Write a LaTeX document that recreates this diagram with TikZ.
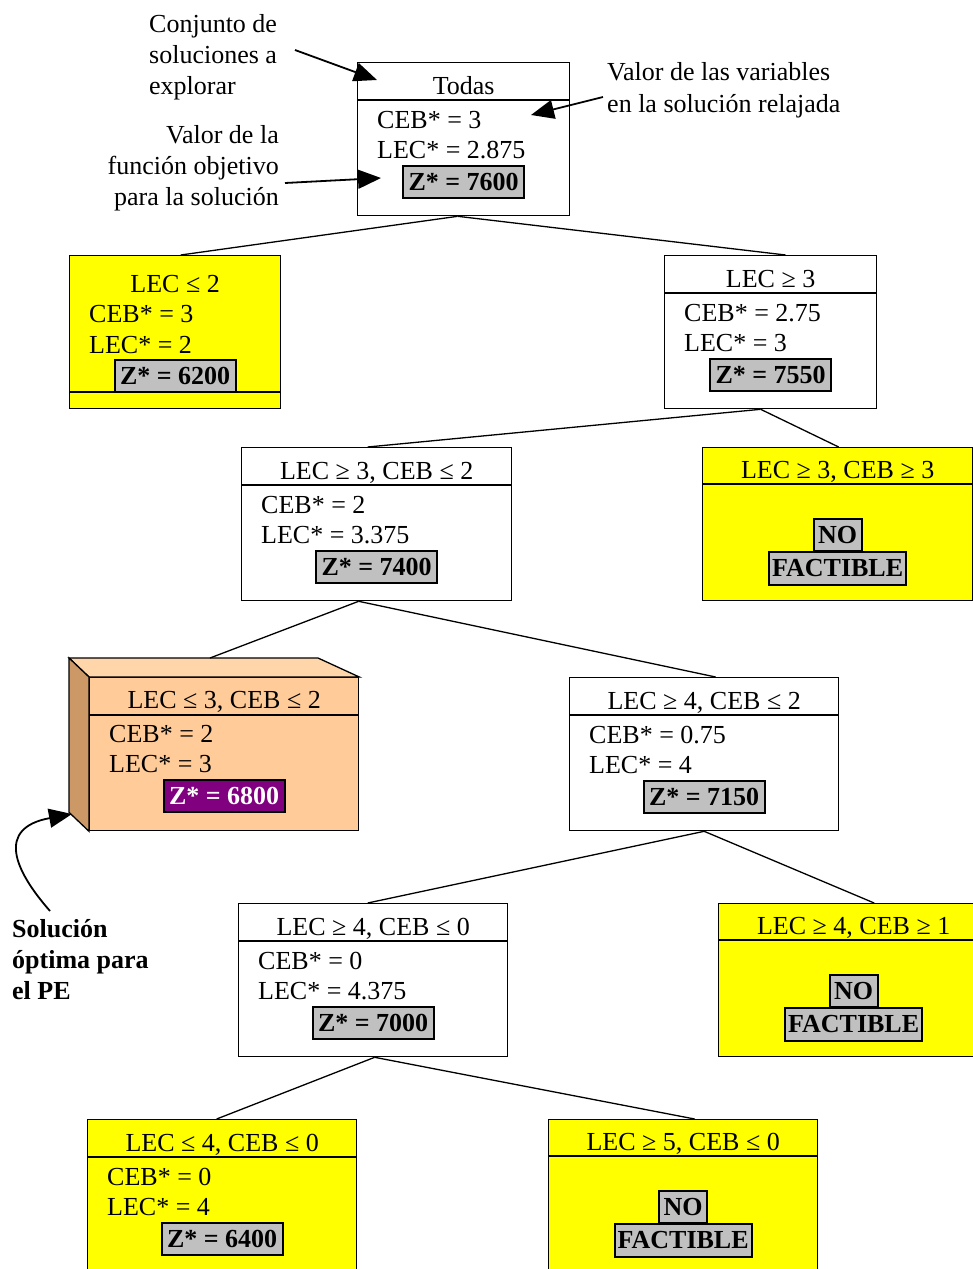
\documentclass[tikz,border=0pt]{standalone}
\usepackage{fontspec}
\setmainfont{Liberation Serif}
\usetikzlibrary{arrows.meta,calc}
\definecolor{yel}{HTML}{FFFF00}
\definecolor{zgray}{HTML}{C0C0C0}
\definecolor{orfront}{HTML}{FFCC99}
\definecolor{ortop}{HTML}{FFD6AA}
\definecolor{orside}{HTML}{CC9966}
\definecolor{zpurple}{HTML}{800080}
\newcommand\fs{\fontsize{26}{31}\selectfont}
% #1 name, #2 x, #3 y, #4 width, #5 fill, #6 header, #7 ceb, #8 lec, #9 z
\newcommand\treenode[9]{%
  \node[tbox, fill=#5, minimum width=#4pt] (#1) at (#2,#3) {};
  \draw[boxline] ($(#1.north west)+(0,38)$) -- ($(#1.north east)+(0,38)$);
  \node[hdr] (#1h) at ($(#1.north)+(0,32)$) {#6};
  \node[txt] (#1c) at ($(#1.north west)+(20,66)$) {#7};
  \node[txt] (#1l) at ($(#1.north west)+(20,96)$) {#8};
  \node[zbox] (#1z) at ($(#1.north)+(0,120)$) {#9};
}
% #1 name, #2 x, #3 y, #4 width, #5 header
\newcommand\infnode[5]{%
  \node[tbox, fill=yel, minimum width=#4pt] (#1) at (#2,#3) {};
  \draw[boxline] ($(#1.north west)+(0,37)$) -- ($(#1.north east)+(0,37)$);
  \node[hdr] (#1h) at ($(#1.north)+(0,31)$) {#5};
  \node[nobox] (#1n) at ($(#1.north)+(0,88)$) {NO};
  \node[factbox] (#1f) at ($(#1.north)+(0,121.5)$) {FACTIBLE};
}
\begin{document}
\begin{tikzpicture}[x=1pt,y=-1pt,
  tbox/.style={draw, line width=1.3pt, inner sep=0pt, anchor=north west, minimum height=153pt},
  boxline/.style={line width=1.3pt},
  hdr/.style={font=\fs, inner sep=0pt, anchor=base},
  txt/.style={font=\fs, inner sep=0pt, anchor=base west},
  rtxt/.style={font=\fs, inner sep=0pt, anchor=base east},
  btxt/.style={font=\fs\bfseries, inner sep=0pt, anchor=base west},
  zbox/.style={draw, fill=zgray, line width=2pt, font=\fs\bfseries, minimum width=121pt, minimum height=32pt, inner sep=0pt},
  nobox/.style={zbox, minimum width=48pt},
  factbox/.style={zbox, minimum width=137pt, minimum height=33pt},
  link/.style={line width=1.3pt},
  note/.style={line width=1.8pt, -{Triangle[length=23pt,width=19pt]}},
]
\fill[white] (0,0) rectangle (973,1269);
\clip (0,0) rectangle (973,1269);

% root
\treenode{b1}{357}{62}{212}{white}{Todas}{CEB* = 3}{LEC* = 2.875}{Z* = 7600}

% LEC <= 2
\node[tbox, fill=yel, minimum width=211pt] (b2) at (69,255) {};
\draw[boxline] ($(b2.north west)+(0,137)$) -- ($(b2.north east)+(0,137)$);
\node[hdr] (b2h) at ($(b2.north)+(0,37)$) {LEC ≤ 2};
\node[txt] (b2c) at ($(b2.north west)+(20,67)$) {CEB* = 3};
\node[txt] (b2l) at ($(b2.north west)+(20,98)$) {LEC* = 2};
\node[zbox] (b2z) at ($(b2.north)+(0,121)$) {Z* = 6200};

\treenode{b3}{664}{255}{212}{white}{LEC ≥ 3}{CEB* = 2.75}{LEC* = 3}{Z* = 7550}
\treenode{b4}{241}{447}{270}{white}{LEC ≥ 3, CEB ≤ 2}{CEB* = 2}{LEC* = 3.375}{Z* = 7400}
\infnode{b5}{702}{447}{270}{LEC ≥ 3, CEB ≥ 3}

% optimal (3D box)
\node[tbox, fill=orfront, minimum width=269pt] (b6) at (89,677) {};
\coordinate (b6back) at ($(b6.north west)+(-20,-19)$);
\fill[ortop, draw=black, line width=1.3pt] (b6back) -- ++(249,0) -- (b6.north east) -- (b6.north west) -- cycle;
\fill[orside, draw=black, line width=1.3pt] (b6back) -- (b6.north west) -- (b6.south west) -- ++(-20,-19) -- cycle;
\draw[boxline] ($(b6.north west)+(0,38)$) -- ($(b6.north east)+(0,38)$);
\node[hdr] (b6h) at ($(b6.north)+(0,31)$) {LEC ≤ 3, CEB ≤ 2};
\node[txt] (b6c) at ($(b6.north west)+(20,65)$) {CEB* = 2};
\node[txt] (b6l) at ($(b6.north west)+(20,95)$) {LEC* = 3};
\node[zbox, fill=zpurple, text=white] (b6z) at ($(b6.north)+(0,119)$) {Z* = 6800};

\treenode{b7}{569}{677}{269}{white}{LEC ≥ 4, CEB ≤ 2}{CEB* = 0.75}{LEC* = 4}{Z* = 7150}
\treenode{b8}{238}{903}{269}{white}{LEC ≥ 4, CEB ≤ 0}{CEB* = 0}{LEC* = 4.375}{Z* = 7000}
\infnode{b9}{718}{903}{270}{LEC ≥ 4, CEB ≥ 1}
\treenode{b10}{87}{1119}{269}{yel}{LEC ≤ 4, CEB ≤ 0}{CEB* = 0}{LEC* = 4}{Z* = 6400}
\infnode{b11}{548}{1119}{269}{LEC ≥ 5, CEB ≤ 0}

% connectors
\draw[link] ([xshift=-6pt]b1.south) -- ([xshift=5.5pt]b2.north);
\draw[link] ([xshift=-6pt]b1.south) -- ([xshift=15pt]b3.north);
\draw[link] ([xshift=-10pt]b3.south) -- ([xshift=-9pt]b4.north);
\draw[link] ([xshift=-10pt]b3.south) -- ([xshift=1pt]b5.north);
\draw[link] ([xshift=-18pt]b4.south) -- ($(b6back)+(141,0)$);
\draw[link] ([xshift=-18pt]b4.south) -- ([xshift=11.5pt]b7.north);
\draw[link] (b7.south) -- ([xshift=-5.5pt]b8.north);
\draw[link] (b7.south) -- ([xshift=20.5pt]b9.north);
\draw[link] ([xshift=1.5pt]b8.south) -- ([xshift=-5.5pt]b10.north);
\draw[link] ([xshift=1.5pt]b8.south) -- ([xshift=11.5pt]b11.north);

% annotations
\node[txt] (n1a) at (149,32) {Conjunto de};
\node[txt] (n1b) at (149,63) {soluciones a};
\node[txt] (n1c) at (149,94) {explorar};
\coordinate (a1s) at (295,50);
\coordinate (a1e) at (377,80);
\draw[note] (a1s) -- (a1e);

\node[rtxt] (n2a) at (279,143) {Valor de la};
\node[rtxt] (n2b) at (279,174) {función objetivo};
\node[rtxt] (n2c) at (279,205) {para la solución};
\coordinate (a2s) at (285,183);
\coordinate (a2e) at (381,178);
\draw[note] (a2s) -- (a2e);

\node[txt] (n3a) at (607,80) {Valor de las variables};
\node[txt] (n3b) at (607,112) {en la solución relajada};
\coordinate (a3s) at (603,97);
\coordinate (a3e) at (531,115);
\draw[note] (a3s) -- (a3e);

\node[btxt] (n4a) at (12,937) {Solución};
\node[btxt] (n4b) at (12,968) {óptima para};
\node[btxt] (n4c) at (12,999) {el PE};
\coordinate (a4s) at (50,911);
\coordinate (a4e) at (72,814);
\draw[note] (a4s) .. controls (14,870) and (-4,828) .. (a4e);
\end{tikzpicture}
\end{document}
